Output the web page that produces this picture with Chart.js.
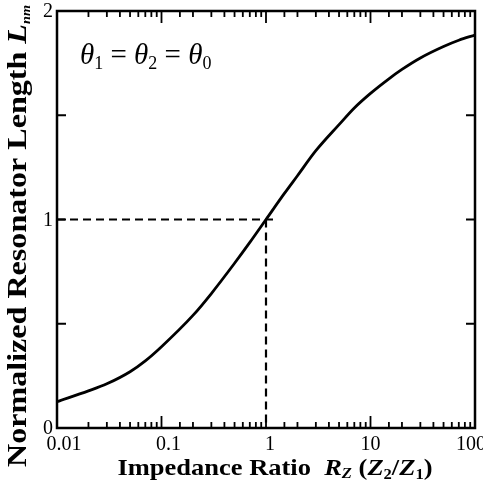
<!DOCTYPE html>
<html>
<head>
<meta charset="utf-8">
<script src="https://cdn.jsdelivr.net/npm/chart.js@4"></script>
<style>
  html, body { margin: 0; padding: 0; background: #fff; }
  #wrap { width: 483px; height: 491px; }
</style>
</head>
<body>
<div id="wrap"><canvas id="chart"></canvas></div>
<script>
// impedance ratio Rz (x) and normalized resonator length (y)
const ratio = [0.01, 0.02, 0.03, 0.05, 0.07, 0.1, 0.2, 0.3, 0.5, 0.7, 1, 1.5, 2, 3, 5, 7, 10, 15, 20, 30, 50, 70, 100];
const lengthNm = [0.126, 0.178, 0.212, 0.27, 0.322, 0.39, 0.54, 0.645, 0.79, 0.89, 1.0, 1.125, 1.21, 1.33, 1.455, 1.535, 1.605, 1.675, 1.72, 1.775, 1.83, 1.86, 1.885];

// dashed guide at Rz = 1, L = 1
const guideX = [0.01, 1.3];
const guideY = [1, 0];

const xTickLabels = ["0.01", "0.1", "1", "10", "100"];
const yTickValues = [0, 1, 2];
const yMarks = [0.5, 1, 1.5];

const serif = "'Liberation Serif', 'Times New Roman', serif";

// draws a run of [text, font, dy] pieces, stretched to a target width
function drawRun(ctx, parts, x, y, width) {
  let total = 0;
  parts.forEach((p) => { ctx.font = p[1]; total += ctx.measureText(p[0]).width; });
  const k = width / total;
  ctx.save();
  ctx.translate(x - width / 2, y);
  ctx.scale(k, 1);
  let cx = 0;
  parts.forEach((p) => {
    ctx.font = p[1];
    ctx.fillText(p[0], cx, p[2]);
    cx += ctx.measureText(p[0]).width;
  });
  ctx.restore();
}

const framePlugin = {
  id: "frame",
  afterDraw(chart) {
    const { ctx, chartArea: a, scales } = chart;
    const xs = scales.x, ys = scales.y;
    ctx.save();
    ctx.strokeStyle = "#000";
    ctx.lineWidth = 2.5;
    ctx.strokeRect(a.left, a.top, a.right - a.left, a.bottom - a.top);

    // inward ticks
    ctx.lineWidth = 1.8;
    ctx.beginPath();
    xs.ticks.forEach((t) => {
      const v = t.value;
      if (v < 0.01 || v > 100) return;
      const px = xs.getPixelForValue(v);
      const lg = Math.log10(v);
      const major = Math.abs(lg - Math.round(lg)) < 1e-6;
      const len = major ? 12 : 6;
      ctx.moveTo(px, a.bottom);
      ctx.lineTo(px, a.bottom - len);
      ctx.moveTo(px, a.top);
      ctx.lineTo(px, a.top + len);
    });
    yMarks.forEach((v) => {
      const py = ys.getPixelForValue(v);
      ctx.moveTo(a.left, py);
      ctx.lineTo(a.left + 9, py);
      ctx.moveTo(a.right, py);
      ctx.lineTo(a.right - 9, py);
    });
    ctx.stroke();

    ctx.fillStyle = "#000";

    // tick labels
    const dx = [7, 7, 4, 0, -4];
    ctx.textAlign = "center";
    ctx.textBaseline = "alphabetic";
    ctx.font = "20px " + serif;
    xTickLabels.forEach((s, i) => {
      const px = xs.getPixelForValue(Math.pow(10, i - 2));
      ctx.fillText(s, px + dx[i], 450);
    });
    ctx.textAlign = "right";
    ctx.textBaseline = "middle";
    yTickValues.forEach((v) => {
      ctx.fillText(String(v), 53, ys.getPixelForValue(v) + 1);
    });

    ctx.textAlign = "left";
    ctx.textBaseline = "alphabetic";

    // x axis title
    const b = "bold 24px " + serif, bi = "italic bold 24px " + serif;
    const sb = "bold 15px " + serif, sbi = "italic bold 15px " + serif;
    drawRun(ctx, [
      ["Impedance Ratio  ", b, 0], ["R", bi, 0], ["Z", sbi, 3], [" (", b, 0],
      ["Z", bi, 0], ["2", sb, 4], ["/", b, 0], ["Z", bi, 0], ["1", sb, 4], [")", b, 0],
    ], 275, 475, 315);

    // y axis title
    ctx.save();
    ctx.translate(26, 236);
    ctx.rotate(-Math.PI / 2);
    const yb = "bold 27px " + serif, ybi = "italic bold 27px " + serif;
    drawRun(ctx, [
      ["Normalized Resonator Length ", yb, 0], ["L", ybi, 0], ["nm", "italic bold 12px " + serif, 4],
    ], 0, 0, 462);
    ctx.restore();

    // annotation
    let tx = 80;
    const ty = 64;
    const parts = [["\u03b8", 29, 0], ["1", 18, 5], [" = ", 29, 0], ["\u03b8", 29, 0], ["2", 18, 5], [" = ", 29, 0], ["\u03b8", 29, 0], ["0", 18, 5]];
    parts.forEach(([s, size, dy]) => {
      ctx.font = (s === "\u03b8" ? "italic " : "") + size + "px " + serif;
      ctx.fillText(s, tx, ty + dy);
      tx += ctx.measureText(s).width;
    });
    ctx.restore();
  },
};

new Chart(document.getElementById("chart"), {
  type: "line",
  data: {
    datasets: [
      {
        data: ratio.map((x, i) => ({ x: x, y: lengthNm[i] })),
        borderColor: "#000",
        borderWidth: 2.8,
        pointRadius: 0,
        cubicInterpolationMode: "monotone",
      },
      {
        data: guideX.map((x) => ({ x: x, y: 1 })),
        borderColor: "#000",
        borderWidth: 2.2,
        borderDash: [8, 5],
        pointRadius: 0,
      },
      {
        data: guideY.map((y) => ({ x: 1, y: y })),
        borderColor: "#000",
        borderWidth: 2.2,
        borderDash: [8, 5],
        pointRadius: 0,
      },
    ],
  },
  options: {
    responsive: true,
    maintainAspectRatio: false,
    animation: false,
    layout: { padding: { left: 0, right: 8, top: 11, bottom: 0 } },
    plugins: { legend: { display: false }, tooltip: { enabled: false } },
    scales: {
      x: {
        type: "logarithmic",
        min: 0.01,
        max: 100,
        grid: { display: false },
        border: { display: false },
        ticks: { display: false, autoSkip: false },
        afterFit: (s) => { s.height = 63; },
      },
      y: {
        min: 0,
        max: 2,
        grid: { display: false },
        border: { display: false },
        ticks: { display: false },
        afterFit: (s) => { s.width = 57; },
      },
    },
  },
  plugins: [framePlugin],
});
</script>
</body>
</html>
